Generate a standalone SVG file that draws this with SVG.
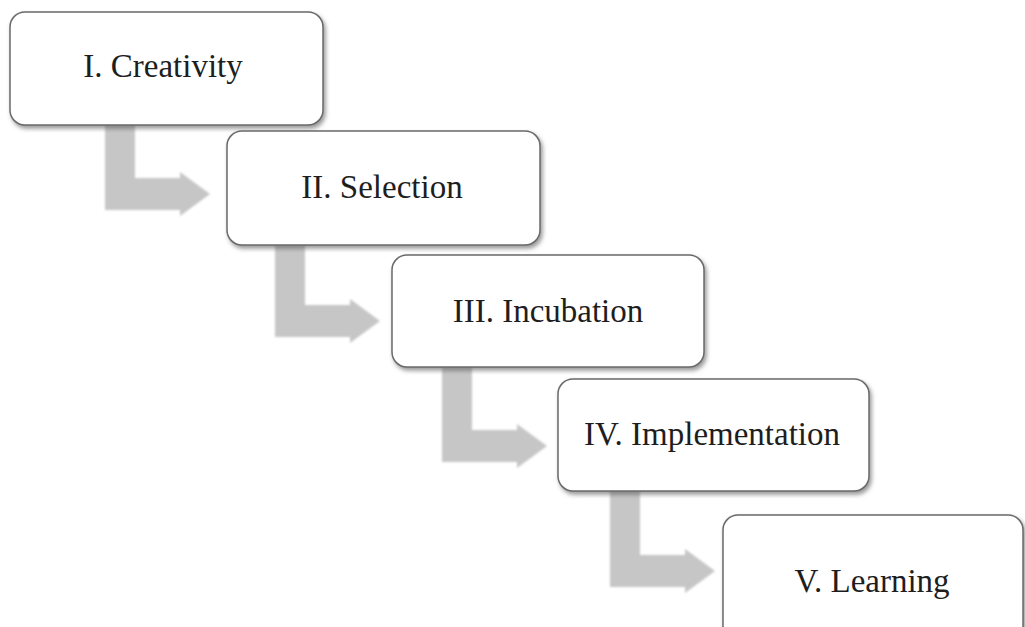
<svg xmlns="http://www.w3.org/2000/svg" width="1025" height="627" viewBox="0 0 1025 627">
  <defs>
    <filter id="shadow" x="-10%" y="-10%" width="125%" height="130%">
      <feDropShadow dx="2" dy="3" stdDeviation="2" flood-color="#555" flood-opacity="0.6"/>
    </filter>
    <filter id="soft" x="-5%" y="-5%" width="110%" height="110%">
      <feGaussianBlur stdDeviation="0.8"/>
    </filter>
  </defs>
  <style>
    .box { fill: #ffffff; stroke: #6a6a6a; stroke-width: 1.5; filter: url(#shadow); }
    .label { font-size: 33px; fill: #1e1e1e; text-anchor: middle; }
    .step { fill: #c6c6c6; filter: url(#soft); }
  </style>
  <rect width="1025" height="627" fill="#ffffff"/>

  <!-- L-shaped step arrows between stages -->
  <g id="connectors">
    <path class="step" d="M105,125 H135 V178 H180 V172 L210,194 L180,216 V210 H105 Z"/>
    <path class="step" d="M275,245 H305 V305 H350 V299 L380,321 L350,343 V337 H275 Z"/>
    <path class="step" d="M442,367 H472 V430 H517 V424 L547,446 L517,468 V462 H442 Z"/>
    <path class="step" d="M610,491 H640 V555 H685 V549 L715,571 L685,593 V587 H610 Z"/>
  </g>

  <g font-family="'Liberation Serif', 'Times New Roman', serif">
    <g id="node-creativity">
      <rect class="box" x="10" y="12" width="313" height="113" rx="15"/>
      <text class="label" x="163" y="77">I. Creativity</text>
    </g>
    <g id="node-selection">
      <rect class="box" x="227" y="131" width="313" height="114" rx="15"/>
      <text class="label" x="382" y="198">II. Selection</text>
    </g>
    <g id="node-incubation">
      <rect class="box" x="392" y="255" width="312" height="112" rx="15"/>
      <text class="label" x="548" y="322">III. Incubation</text>
    </g>
    <g id="node-implementation">
      <rect class="box" x="558" y="379" width="311" height="112" rx="15"/>
      <text class="label" x="712" y="445">IV. Implementation</text>
    </g>
    <g id="node-learning">
      <rect class="box" x="723" y="515" width="300" height="130" rx="15"/>
      <text class="label" x="872" y="592">V. Learning</text>
    </g>
  </g>
</svg>
